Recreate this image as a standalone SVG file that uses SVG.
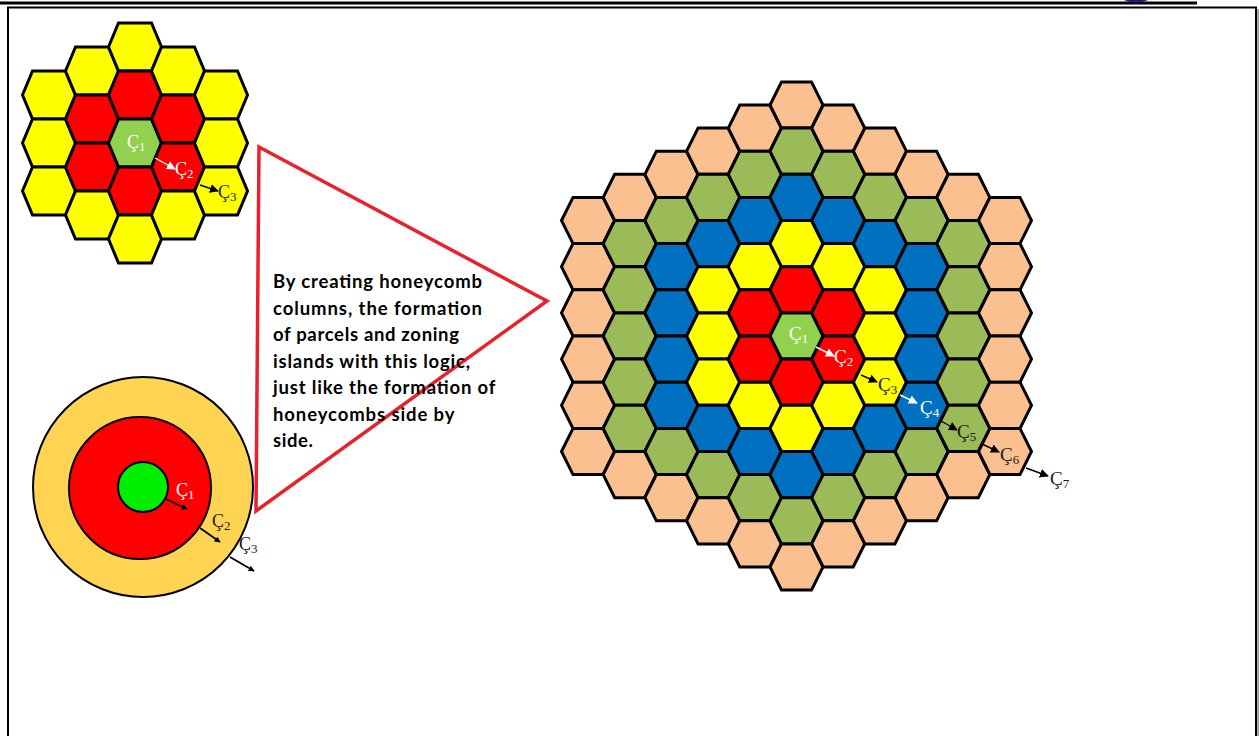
<svg xmlns="http://www.w3.org/2000/svg" xmlns:xlink="http://www.w3.org/1999/xlink" width="1259" height="736" viewBox="0 0 1259 736">
<style>
.hx{stroke:#000;stroke-width:3;stroke-linejoin:miter}
.P{fill:#FAC090}.G{fill:#9BBB59}.B{fill:#0070C0}.Y{fill:#FFFF00}.R{fill:#FF0000}.C{fill:#92D050}
.lbl{font-family:"Liberation Serif","Times New Roman",serif;font-size:19px}
.lbs{font-family:"Liberation Serif","Times New Roman",serif;font-size:18px}
.sub{font-size:13px}
.w{fill:#fff}.k{fill:#1a1a1a}
.arw{stroke-width:1.4;fill:none}
.aw{stroke:#fff;marker-end:url(#mw)}
.ak{stroke:#000;marker-end:url(#mk)}
.ac{stroke:#000;stroke-width:1.8;marker-end:url(#ms)}
.body{font-family:Lato,"Open Sans",sans-serif;font-weight:bold;font-size:18.5px;fill:#000}
</style>
<defs>
<polygon id="hb" class="hx" points="-26.5,0 -15,-23.1 15,-23.1 26.5,0 15,23.1 -15,23.1"/>
<polygon id="hs" class="hx" points="-26.5,0 -16.5,-24 16.5,-24 26.5,0 16.5,24 -16.5,24"/>
<marker id="mw" viewBox="0 0 10 10" refX="9" refY="5" markerWidth="9" markerHeight="9" markerUnits="userSpaceOnUse" orient="auto"><path d="M0,0 L10,5 L0,10 Z" fill="#fff"/></marker>
<marker id="mk" viewBox="0 0 10 10" refX="9" refY="5" markerWidth="9" markerHeight="9" markerUnits="userSpaceOnUse" orient="auto"><path d="M0,0 L10,5 L0,10 Z" fill="#000"/></marker>
<marker id="ms" viewBox="0 0 10 10" refX="9" refY="5" markerWidth="6" markerHeight="6" markerUnits="userSpaceOnUse" orient="auto"><path d="M0,0 L10,5 L0,10 Z" fill="#000"/></marker>
</defs>
<rect width="1259" height="736" fill="#fff"/>
<g id="frame">
<line x1="0" y1="3" x2="1197" y2="3" stroke="#000" stroke-width="3"/>
<path d="M1124,0 Q1136,5.5 1148,0 Z" fill="#1f1f78"/>
<path d="M8,740 L8,7.5 L1256,7.5 L1256,740" fill="none" stroke="#000" stroke-width="2"/>
<line x1="1258" y1="9" x2="1258" y2="740" stroke="#888" stroke-width="1.5"/>
</g>
<g id="small-honeycomb">
<use xlink:href="#hs" x="49" y="95" class="Y"/><use xlink:href="#hs" x="49" y="143" class="Y"/><use xlink:href="#hs" x="49" y="191" class="Y"/>
<use xlink:href="#hs" x="92" y="71" class="Y"/><use xlink:href="#hs" x="92" y="119" class="R"/><use xlink:href="#hs" x="92" y="167" class="R"/><use xlink:href="#hs" x="92" y="215" class="Y"/>
<use xlink:href="#hs" x="135" y="47" class="Y"/><use xlink:href="#hs" x="135" y="95" class="R"/><use xlink:href="#hs" x="135" y="143" class="C"/><use xlink:href="#hs" x="135" y="191" class="R"/><use xlink:href="#hs" x="135" y="239" class="Y"/>
<use xlink:href="#hs" x="178" y="71" class="Y"/><use xlink:href="#hs" x="178" y="119" class="R"/><use xlink:href="#hs" x="178" y="167" class="R"/><use xlink:href="#hs" x="178" y="215" class="Y"/>
<use xlink:href="#hs" x="221" y="95" class="Y"/><use xlink:href="#hs" x="221" y="143" class="Y"/><use xlink:href="#hs" x="221" y="191" class="Y"/>
</g>
<g id="big-honeycomb">
<use xlink:href="#hb" x="588" y="220.5" class="P"/><use xlink:href="#hb" x="588" y="266.7" class="P"/><use xlink:href="#hb" x="588" y="312.9" class="P"/><use xlink:href="#hb" x="588" y="359.1" class="P"/><use xlink:href="#hb" x="588" y="405.3" class="P"/><use xlink:href="#hb" x="588" y="451.5" class="P"/>
<use xlink:href="#hb" x="629.7" y="197.4" class="P"/><use xlink:href="#hb" x="629.7" y="243.6" class="G"/><use xlink:href="#hb" x="629.7" y="289.8" class="G"/><use xlink:href="#hb" x="629.7" y="336" class="G"/><use xlink:href="#hb" x="629.7" y="382.2" class="G"/><use xlink:href="#hb" x="629.7" y="428.4" class="G"/><use xlink:href="#hb" x="629.7" y="474.6" class="P"/>
<use xlink:href="#hb" x="671.4" y="174.3" class="P"/><use xlink:href="#hb" x="671.4" y="220.5" class="G"/><use xlink:href="#hb" x="671.4" y="266.7" class="B"/><use xlink:href="#hb" x="671.4" y="312.9" class="B"/><use xlink:href="#hb" x="671.4" y="359.1" class="B"/><use xlink:href="#hb" x="671.4" y="405.3" class="B"/><use xlink:href="#hb" x="671.4" y="451.5" class="G"/><use xlink:href="#hb" x="671.4" y="497.7" class="P"/>
<use xlink:href="#hb" x="713.1" y="151.2" class="P"/><use xlink:href="#hb" x="713.1" y="197.4" class="G"/><use xlink:href="#hb" x="713.1" y="243.6" class="B"/><use xlink:href="#hb" x="713.1" y="289.8" class="Y"/><use xlink:href="#hb" x="713.1" y="336" class="Y"/><use xlink:href="#hb" x="713.1" y="382.2" class="Y"/><use xlink:href="#hb" x="713.1" y="428.4" class="B"/><use xlink:href="#hb" x="713.1" y="474.6" class="G"/><use xlink:href="#hb" x="713.1" y="520.8" class="P"/>
<use xlink:href="#hb" x="754.8" y="128.1" class="P"/><use xlink:href="#hb" x="754.8" y="174.3" class="G"/><use xlink:href="#hb" x="754.8" y="220.5" class="B"/><use xlink:href="#hb" x="754.8" y="266.7" class="Y"/><use xlink:href="#hb" x="754.8" y="312.9" class="R"/><use xlink:href="#hb" x="754.8" y="359.1" class="R"/><use xlink:href="#hb" x="754.8" y="405.3" class="Y"/><use xlink:href="#hb" x="754.8" y="451.5" class="B"/><use xlink:href="#hb" x="754.8" y="497.7" class="G"/><use xlink:href="#hb" x="754.8" y="543.9" class="P"/>
<use xlink:href="#hb" x="796.5" y="105" class="P"/><use xlink:href="#hb" x="796.5" y="151.2" class="G"/><use xlink:href="#hb" x="796.5" y="197.4" class="B"/><use xlink:href="#hb" x="796.5" y="243.6" class="Y"/><use xlink:href="#hb" x="796.5" y="289.8" class="R"/><use xlink:href="#hb" x="796.5" y="336" class="C"/><use xlink:href="#hb" x="796.5" y="382.2" class="R"/><use xlink:href="#hb" x="796.5" y="428.4" class="Y"/><use xlink:href="#hb" x="796.5" y="474.6" class="B"/><use xlink:href="#hb" x="796.5" y="520.8" class="G"/><use xlink:href="#hb" x="796.5" y="567" class="P"/>
<use xlink:href="#hb" x="838.2" y="128.1" class="P"/><use xlink:href="#hb" x="838.2" y="174.3" class="G"/><use xlink:href="#hb" x="838.2" y="220.5" class="B"/><use xlink:href="#hb" x="838.2" y="266.7" class="Y"/><use xlink:href="#hb" x="838.2" y="312.9" class="R"/><use xlink:href="#hb" x="838.2" y="359.1" class="R"/><use xlink:href="#hb" x="838.2" y="405.3" class="Y"/><use xlink:href="#hb" x="838.2" y="451.5" class="B"/><use xlink:href="#hb" x="838.2" y="497.7" class="G"/><use xlink:href="#hb" x="838.2" y="543.9" class="P"/>
<use xlink:href="#hb" x="879.9" y="151.2" class="P"/><use xlink:href="#hb" x="879.9" y="197.4" class="G"/><use xlink:href="#hb" x="879.9" y="243.6" class="B"/><use xlink:href="#hb" x="879.9" y="289.8" class="Y"/><use xlink:href="#hb" x="879.9" y="336" class="Y"/><use xlink:href="#hb" x="879.9" y="382.2" class="Y"/><use xlink:href="#hb" x="879.9" y="428.4" class="B"/><use xlink:href="#hb" x="879.9" y="474.6" class="G"/><use xlink:href="#hb" x="879.9" y="520.8" class="P"/>
<use xlink:href="#hb" x="921.6" y="174.3" class="P"/><use xlink:href="#hb" x="921.6" y="220.5" class="G"/><use xlink:href="#hb" x="921.6" y="266.7" class="B"/><use xlink:href="#hb" x="921.6" y="312.9" class="B"/><use xlink:href="#hb" x="921.6" y="359.1" class="B"/><use xlink:href="#hb" x="921.6" y="405.3" class="B"/><use xlink:href="#hb" x="921.6" y="451.5" class="G"/><use xlink:href="#hb" x="921.6" y="497.7" class="P"/>
<use xlink:href="#hb" x="963.3" y="197.4" class="P"/><use xlink:href="#hb" x="963.3" y="243.6" class="G"/><use xlink:href="#hb" x="963.3" y="289.8" class="G"/><use xlink:href="#hb" x="963.3" y="336" class="G"/><use xlink:href="#hb" x="963.3" y="382.2" class="G"/><use xlink:href="#hb" x="963.3" y="428.4" class="G"/><use xlink:href="#hb" x="963.3" y="474.6" class="P"/>
<use xlink:href="#hb" x="1005" y="220.5" class="P"/><use xlink:href="#hb" x="1005" y="266.7" class="P"/><use xlink:href="#hb" x="1005" y="312.9" class="P"/><use xlink:href="#hb" x="1005" y="359.1" class="P"/><use xlink:href="#hb" x="1005" y="405.3" class="P"/><use xlink:href="#hb" x="1005" y="451.5" class="P"/>
</g>
<g id="circles">
<circle cx="143" cy="487" r="110" fill="#FFD452" stroke="#000" stroke-width="2"/>
<circle cx="140" cy="488" r="71" fill="#FF0000" stroke="#000" stroke-width="2"/>
<circle cx="143" cy="487" r="25" fill="#00EE00" stroke="#000" stroke-width="2"/>
</g>
<g id="callout">
<polygon points="259,147 547,301 256,511" fill="none" stroke="#E8212A" stroke-width="3.5" stroke-linejoin="miter"/>
<text class="body">
<tspan x="273" y="288" textLength="209">By creating honeycomb</tspan>
<tspan x="273" y="314.5" textLength="209">columns, the formation</tspan>
<tspan x="273" y="341" textLength="186">of parcels and zoning</tspan>
<tspan x="273" y="367.5" textLength="197">islands with this logic,</tspan>
<tspan x="273" y="394" textLength="222">just like the formation of</tspan>
<tspan x="273" y="420.5" textLength="181">honeycombs side by</tspan>
<tspan x="273" y="447" textLength="40">side.</tspan>
</text>
</g>
<g id="connectors">
<line class="arw aw" x1="155" y1="158" x2="175" y2="169"/>
<line class="arw ak" x1="200" y1="185" x2="218" y2="191"/>
<line class="arw aw" x1="816" y1="347" x2="834" y2="356"/>
<line class="arw ak" x1="861" y1="375" x2="877" y2="382"/>
<line class="arw aw" x1="900" y1="395" x2="917" y2="403"/>
<line class="arw ak" x1="941" y1="421" x2="957" y2="430"/>
<line class="arw ak" x1="982" y1="444" x2="999" y2="452"/>
<line class="arw ak" x1="1026" y1="468" x2="1048" y2="476"/>
<line class="ac" x1="166" y1="499" x2="187" y2="509"/>
<line class="ac" x1="200" y1="528" x2="220" y2="542"/>
<line class="ac" x1="230" y1="557" x2="254" y2="571"/>
</g>
<g id="labels">
<text class="lbs w" x="127" y="148">Ç<tspan class="sub" dy="3">1</tspan></text>
<text class="lbs w" x="175" y="175">Ç<tspan class="sub" dy="3">2</tspan></text>
<text class="lbs k" x="218" y="198">Ç<tspan class="sub" dy="3">3</tspan></text>
<text class="lbl w" x="789" y="340">Ç<tspan class="sub" dy="3">1</tspan></text>
<text class="lbl w" x="834" y="363">Ç<tspan class="sub" dy="3">2</tspan></text>
<text class="lbl k" x="878" y="391">Ç<tspan class="sub" dy="3">3</tspan></text>
<text class="lbl w" x="920" y="414">Ç<tspan class="sub" dy="3">4</tspan></text>
<text class="lbl k" x="957" y="438">Ç<tspan class="sub" dy="3">5</tspan></text>
<text class="lbl k" x="1000" y="461">Ç<tspan class="sub" dy="3">6</tspan></text>
<text class="lbl k" x="1050" y="485">Ç<tspan class="sub" dy="3">7</tspan></text>
<text class="lbs w" x="176" y="496">Ç<tspan class="sub" dy="3">1</tspan></text>
<text class="lbs k" x="212" y="527">Ç<tspan class="sub" dy="3">2</tspan></text>
<text class="lbs k" x="239" y="550">Ç<tspan class="sub" dy="3">3</tspan></text>
</g>
</svg>
